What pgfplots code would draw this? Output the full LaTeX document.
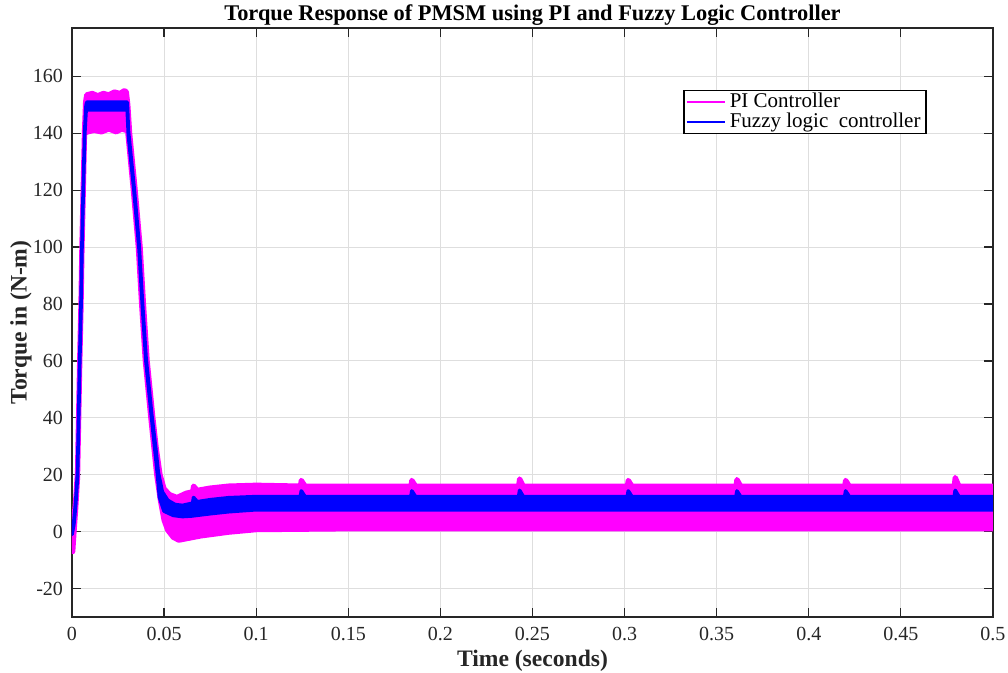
\documentclass[border=0pt]{standalone}
\usepackage{fontspec}
\setmainfont{Liberation Serif}
\usepackage{pgfplots}
\pgfplotsset{compat=1.18}
\definecolor{axgray}{RGB}{38,38,38}
\definecolor{gridgray}{RGB}{222,222,222}
\definecolor{pimag}{RGB}{255,0,255}
\definecolor{flblue}{RGB}{0,0,255}

\begin{document}
\begin{tikzpicture}
\path[use as bounding box] (-36pt,-28pt) rectangle (468pt,308.5pt);
\begin{axis}[
    at={(0,0)}, anchor=south west,
    scale only axis, width=460.5pt, height=294.5pt,
    xmin=0, xmax=0.5, ymin=-30, ymax=177,
    xtick={0,0.05,...,0.5},
    xticklabels={0,0.05,0.1,0.15,0.2,0.25,0.3,0.35,0.4,0.45,0.5},
    ytick={-20,0,...,160},
    /pgf/number format/assume math mode=true,
    tick label style={font=\fontsize{10}{12}\selectfont, text=axgray},
    xticklabel style={anchor=base, yshift=-12pt},
    yticklabel style={anchor=east, xshift=-1pt},
    grid=major,
    major grid style={gridgray, line width=0.5pt},
    axis line style={axgray, line width=0.6pt},
    tick style={axgray, line width=0.6pt},
    tick align=inside, major tick length=4.5pt,
    title={Torque Response of PMSM using PI and Fuzzy Logic Controller},
    title style={at={(0.5,1)}, anchor=base, yshift=-2.5pt,
                 font=\bfseries\fontsize{11.2}{13}\selectfont},
    xlabel={Time (seconds)},
    xlabel style={at={(0.5,0)}, anchor=base, yshift=-25pt,
                  font=\bfseries\fontsize{11.8}{13}\selectfont, text=axgray},
    ylabel={Torque in (N-m)},
    ylabel style={at={(-0.0555,0.5)}, anchor=center,
                  font=\bfseries\fontsize{11.8}{13}\selectfont, text=axgray},
    legend style={at={(0.928,0.895)}, anchor=north east,
                  draw=black, line width=0.6pt, fill=white,
                  font=\fontsize{10.5}{11}\selectfont,
                  inner sep=0.8pt, row sep=0pt,
                  nodes={inner ysep=0.6pt}},
    legend cell align=left,
    legend image code/.code={\draw[#1, line width=1.1pt] (0pt,0pt) -- (19pt,0pt);},
  ]
  % PI controller: band between upper and lower envelope
  \addplot[forget plot, draw=pimag, fill=pimag, line width=2.6pt, line join=round]
  coordinates {
    (0,0)(0.001,4)(0.002,11)(0.003,21)(0.0036,41)(0.0042,61)(0.0049,81)
    (0.0054,101)(0.0061,121)(0.0068,141)(0.0074,151)(0.008,153.5)(0.011,154)
    (0.014,153.2)(0.017,154)(0.020,153.5)(0.023,154.5)(0.026,154)(0.0285,155)
    (0.0295,154.5)(0.0303,150)(0.0313,140)(0.0343,120)(0.037,100)(0.0388,80)
    (0.0408,60)(0.0439,40)(0.0458,29)(0.0478,20)(0.050,15)(0.053,13)(0.057,12)
    (0.062,13.5)(0.0655,14)(0.066,16)(0.068,14.5)(0.075,15.3)(0.085,16)(0.1,16.3)
    (0.124,16)(0.1245,18)(0.1265,16)(0.184,16)(0.1845,18)(0.1865,16)
    (0.2425,16)(0.243,18.5)(0.245,16)(0.3015,16)(0.302,18)(0.304,16)
    (0.3605,16)(0.361,18.3)(0.363,16)(0.4195,16)(0.42,18)(0.422,16)
    (0.479,16)(0.4795,19)(0.4815,16)(0.5,16)
    (0.5,1)(0.3,1)(0.15,1)(0.1,0.7)(0.085,-0.2)(0.07,-1.5)(0.062,-2.5)
    (0.058,-3)(0.055,-2)(0.052,0.5)(0.05,4)(0.048,11)(0.046,20)(0.0428,40)
    (0.0398,60)(0.0378,80)(0.036,100)(0.0333,120)(0.0302,141)(0.0295,141)
    (0.027,141.5)(0.024,140.5)(0.02,141.5)(0.016,140.5)(0.012,141)(0.0085,140.5)
    (0.0068,140)(0.0061,119)(0.0054,99)(0.0049,79)(0.0042,59)(0.0036,39)
    (0.003,19)(0.002,8)(0.001,-1)(0.0004,-7)(0,-6)
  } -- cycle;
  % Fuzzy logic controller band
  \addplot[forget plot, draw=flblue, fill=flblue, line width=1.8pt, line join=round]
  coordinates {
    (0,0)(0.001,3.5)(0.002,10.5)(0.003,20.5)(0.0036,40.5)(0.0042,60.5)
    (0.0049,80.5)(0.0054,100.5)(0.0061,120.5)(0.0069,140.5)(0.0076,149.5)
    (0.008,150.9)(0.03,150.9)(0.0306,141)(0.0337,121)(0.0364,101)(0.0382,81)
    (0.0402,61)(0.0433,41)(0.0455,29)(0.0468,21)(0.049,14)(0.052,11)(0.056,9.5)
    (0.06,9.2)(0.0655,10)(0.066,12)(0.068,10.5)(0.075,11.2)(0.085,11.9)(0.1,12.3)
    (0.124,12.3)(0.1245,14.3)(0.1265,12.3)(0.184,12.3)(0.1845,14.3)(0.1865,12.3)
    (0.2425,12.3)(0.243,14.5)(0.245,12.3)(0.3015,12.3)(0.302,14.3)(0.304,12.3)
    (0.3605,12.3)(0.361,14.3)(0.363,12.3)(0.4195,12.3)(0.42,14.3)(0.422,12.3)
    (0.479,12.3)(0.4795,14.5)(0.4815,12.3)(0.5,12.3)
    (0.5,7.7)(0.3,7.7)(0.1,7.7)(0.085,7)(0.075,6.3)(0.065,5.5)(0.06,5.3)
    (0.055,5.7)(0.05,7.2)(0.0475,12)(0.0465,19.5)(0.0433,39.5)(0.0402,59.5)
    (0.0382,79.5)(0.0364,99.5)(0.0337,119.5)(0.0306,139.5)(0.03,148.2)
    (0.008,148.2)(0.0076,147.5)(0.0069,139.5)(0.0061,119.5)(0.0054,99.5)
    (0.0049,79.5)(0.0042,59.5)(0.0036,39.5)(0.003,19.5)(0.002,9.5)(0.001,2.5)
    (0,-1)
  } -- cycle;
  \addlegendimage{pimag}
  \addlegendentry{PI Controller}
  \addlegendimage{flblue}
  \addlegendentry{Fuzzy logic\ \ controller}
\end{axis}
\end{tikzpicture}
\end{document}
